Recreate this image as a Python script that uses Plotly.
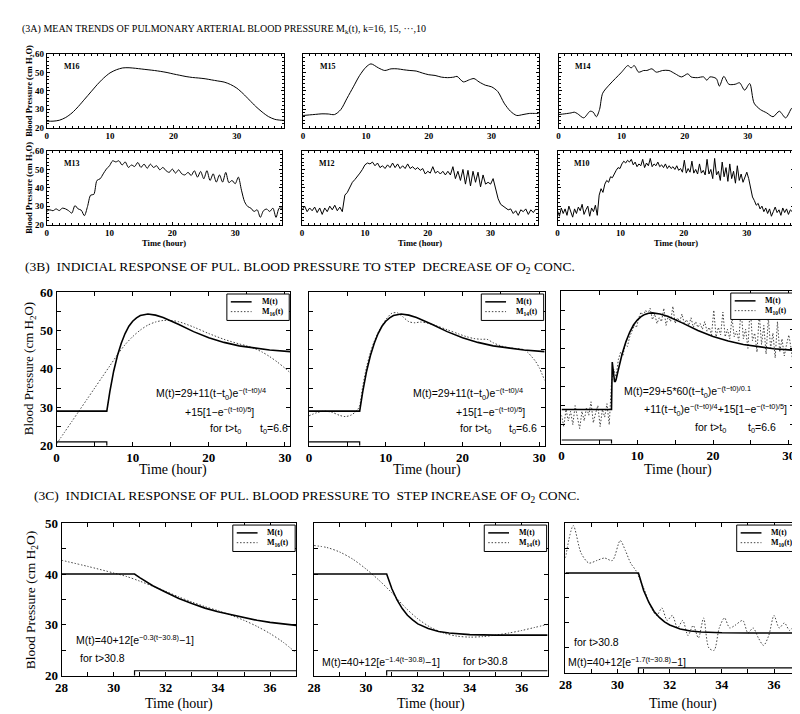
import numpy as np
import plotly.graph_objects as go

W, H = 800, 714
SERIF = "Liberation Serif"
SANS = "Liberation Sans"
NB = "\u00a0"


def px(x):
    return x / W


def py(y):
    return 1 - y / H


# ------------------------------------------------------------------ data
# (3A) mean trends, time in hours, pressure in cm H2O
T16A = [0, 1, 2, 3, 4, 5, 6, 7, 8, 9, 10, 11, 12, 13, 14, 15, 16, 17, 18, 19, 20,
        21, 22, 23, 24, 25, 26, 27, 28, 29, 30, 31, 32, 33, 34, 35, 36, 37, 37.5]
M16A = [23.5, 23.5, 24, 25.5, 28, 31.5, 35.5, 39.5, 43.5, 47, 49.8, 51.5, 52.5, 52.6,
        52.3, 51.9, 51.5, 51.1, 50.6, 50, 49.2, 48.5, 47.8, 47.3, 47, 46.6, 46, 45.4,
        44.8, 43.5, 41.5, 38.5, 35, 31.5, 28.5, 26, 24.5, 24, 24]

T15A = [0, 1, 2, 3, 4, 5, 6, 7, 8, 9, 10, 10.8, 12, 13, 14, 15, 16, 17, 18, 19, 20, 21,
        22, 23, 24, 24.5, 25.5, 26.5, 27.2, 28, 29, 30, 31, 32, 33, 34, 35, 36, 37, 37.5]
M15A = [26.6, 26.9, 27.2, 27.5, 27.4, 27.1, 29.8, 36, 42.2, 48.4, 52.9, 54.7, 52.5, 51.1,
        52, 52, 51.5, 51.1, 50.8, 49.7, 48.8, 48.4, 47.5, 47.2, 47.5, 47.9, 44.9, 46.1,
        46.7, 44.9, 43.1, 42.2, 39.6, 33.3, 28.9, 26.6, 27.1, 27.7, 27.7, 27.7]

T14A = [0, 1, 2, 2.5, 3, 4, 5, 5.5, 6, 6.5, 7, 8, 9, 10, 11, 11.5, 12, 12.7, 13.5, 14,
        14.8, 15.5, 16.5, 17.5, 18.5, 19.5, 20.5, 21, 22, 23, 23.5, 24, 25, 25.5, 26.2,
        27, 28, 28.7, 29.5, 30.3, 31, 32, 33, 34, 35, 36, 37, 37.5]
M14A = [27.1, 27.5, 28, 28.4, 27.6, 25.3, 28.9, 28.4, 25.9, 29.8, 38.7, 43.1, 46.7, 50.2,
        53.8, 52.5, 53.8, 50.2, 51.1, 51.1, 52, 50.2, 51.1, 51.1, 49.3, 47.6, 49.3, 47.6,
        47.2, 47.6, 45.8, 47.6, 46.7, 42.6, 47.9, 43.6, 43.6, 44.4, 40.4, 44, 33.3, 29.8,
        28, 25.9, 28.9, 25.3, 30.7, 31]

# noisy records on regular time bases
T13A = np.round(np.arange(76) * 0.5, 2)
M13A = [27.1, 28, 27.5, 28.5, 27.6, 28.9, 28.5, 27.5, 26.2, 30.3,
        28.5, 27.8, 24.8, 29.8, 36, 36.4, 44, 44.9, 47.6, 50.2,
        52, 54.7, 54.1, 54.7, 52.4, 54.1, 51.1, 52.4, 51.6, 53.8,
        51.1, 52.9, 50.6, 52.9, 51.1, 52, 49.8, 51.1, 49.3, 48.4,
        50.2, 48, 49.8, 47.6, 47, 48.4, 46.7, 49.3, 45.8, 48.9,
        44.9, 49.3, 44, 47.6, 43.1, 47, 43.1, 48.4, 42.8, 44,
        42.2, 45.8, 38.7, 32.4, 29.8, 28.9, 27.1, 28, 23.9, 27.5,
        28.4, 27.1, 28.9, 23.9, 28.9, 28.9]

T12A = np.round(np.arange(94) * 0.4, 2)
M12A = [28, 30, 27, 29, 27.5, 29.5, 26.5, 29, 25.5, 29,
        27, 30, 28, 30.5, 27.5, 29.5, 27, 36, 37.5, 40,
        43, 44.5, 46, 48, 50, 52.5, 53.5, 53, 54, 52,
        53.5, 51, 52, 50.5, 52.5, 51, 53.5, 51, 53, 50.5,
        52, 50.5, 53, 50.5, 51.5, 50, 51, 49.5, 50.5, 47.5,
        49, 48, 51.5, 48, 49, 47.5, 49, 47, 49, 47,
        51.5, 45, 49, 44, 50, 42, 49.5, 41, 49, 43,
        48.5, 40.5, 47, 42, 43, 42, 45, 40, 34, 31,
        30, 29.5, 28, 28.5, 26, 27.5, 25, 28, 27, 28.5,
        25.5, 28, 26.5, 28.5]

T10A = np.round(np.arange(126) * 0.3, 2)
M10A = [27.5, 24.5, 29, 26, 28.5, 25, 30, 27, 24, 28.5,
        26, 29.5, 27.5, 31, 25.5, 28, 30, 24.5, 29, 27,
        30.5, 25, 36, 39.5, 37.5, 42, 44, 43, 46, 45.5,
        48, 49.5, 51, 50.5, 53, 54.5, 53.5, 55, 54, 55.5,
        52.5, 54, 51.5, 53, 52, 55.5, 51, 53.5, 52, 56,
        51.5, 53, 52, 54, 51.5, 52.5, 51, 53, 50.5, 52,
        50.5, 51.5, 50, 52, 49.5, 50.5, 48.5, 55, 48, 50.5,
        48.5, 54.5, 48, 50, 47.5, 53, 48, 49.5, 47, 55.5,
        47.5, 50, 45, 56, 47, 49, 44, 54, 46, 51,
        43.5, 53, 45, 49, 42.5, 52, 44, 47.5, 43, 46,
        48.5, 45, 40, 35, 33, 30.5, 31.5, 28.5, 30, 27,
        29, 26, 28.5, 24.5, 27, 29.5, 26.5, 28, 25, 29,
        26.5, 28.5, 25.5, 28, 27, 28.5]

# (3B) step decrease of O2: model M(t) and measured means
TB_M = [0, 6.6, 7, 7.5, 8, 8.5, 9, 9.5, 10, 10.5, 11, 11.5, 12, 13, 14, 16, 18, 20, 22,
        24, 26, 28, 30.7]
MB = [29, 29, 34.1, 39.4, 43.5, 46.7, 49.2, 51.1, 52.4, 53.3, 53.9, 54.2, 54.3, 54.0,
      53.4, 51.6, 49.7, 48.1, 46.9, 46.0, 45.4, 44.9, 44.5]

TB3_M = [0, 6.6, 6.7, 6.8, 6.9, 7.0, 7.1, 7.2, 7.5, 8, 8.5, 9, 9.5, 10, 10.5, 11, 11.5,
         12, 13, 14, 16, 18, 20, 22, 24, 26, 28, 30.7]
MB3 = [29, 29, 41.4, 39.8, 37.4, 36.3, 36.3, 36.8, 39.4, 43.5, 46.7, 49.2, 51.1, 52.4,
       53.3, 53.9, 54.2, 54.3, 54.0, 53.4, 51.6, 49.7, 48.1, 46.9, 46.0, 45.4, 44.9, 44.5]

TB16 = [0, 1, 2, 3, 4, 5, 6, 7, 8, 9, 10, 11, 12, 13, 14, 15, 16, 18, 20, 22, 24, 25,
        26, 27, 28, 29, 30, 30.7]
MB16 = [20.5, 23.4, 26.3, 29.2, 32.1, 35, 37.9, 40.8, 43.7, 46.3, 48.4, 50.1, 51.4,
        52.2, 52.6, 52.6, 52.3, 50.9, 49.2, 47.7, 46.5, 46.0, 45.3, 44.4, 43.2, 41.8,
        40.2, 39.0]

TB14 = [0, 1, 2, 3, 4, 4.7, 5.5, 6.3, 6.6, 7, 7.5, 8, 8.5, 9, 10, 10.8, 11.5, 12.2, 13,
        13.8, 14.5, 15.5, 16.5, 18, 19.5, 20.5, 21.5, 22.5, 23.2, 24, 25, 26, 27, 28,
        28.5, 29, 29.5, 30, 30.7]
MB14 = [27.8, 28.6, 29.0, 28.7, 27.9, 27.6, 28.0, 29.3, 30.5, 35.5, 40.5, 44.3, 47.2,
        49.4, 52.8, 54.5, 54.6, 53.6, 52.3, 52.0, 52.2, 51.9, 51.3, 50.2, 49.1, 48.4,
        47.9, 47.7, 47.7, 46.8, 46.0, 45.5, 45.3, 45.0, 44.3, 43.2, 42.0, 40.3, 37.0]

# O2 step indicators (time, level)
STEP_B_T = [0, 6.6, 6.6]
STEP_B_Y = [21, 21, 20]
STEP_C_T = [30.8, 30.8, 37]
STEP_C_Y = [20, 21, 21]

# (3C) step increase of O2
TC1_M = [28, 30.8, 31, 31.5, 32, 32.5, 33, 33.5, 34, 34.5, 35, 35.5, 36, 36.5, 37]
MC1 = [40, 40, 39.3, 37.7, 36.4, 35.2, 34.2, 33.3, 32.6, 32.0, 31.4, 30.9, 30.5, 30.2, 29.9]
TC16 = [28, 29, 30, 30.5, 31, 31.5, 32, 32.5, 33, 33.5, 34, 34.5, 35, 35.5, 36, 36.5, 37]
MC16 = [42.7, 41.5, 40.2, 39.5, 38.6, 37.6, 36.6, 35.5, 34.5, 33.6, 32.8, 31.9, 30.9,
        29.7, 28.3, 26.6, 24.5]

TC2_M = [28, 30.8, 31, 31.2, 31.4, 31.6, 31.8, 32, 32.4, 32.8, 33.2, 33.6, 34, 35, 36, 37]
MC2 = [40, 40, 37.1, 34.9, 33.2, 31.9, 31.0, 30.2, 29.3, 28.7, 28.4, 28.2, 28.1, 28.0,
       28.0, 28.0]
TC14 = [28, 28.5, 29, 29.5, 30, 30.5, 31, 31.5, 32, 32.5, 33, 33.5, 34, 34.5, 35, 35.5,
        36, 36.5, 37]
MC14 = [45.6, 45.2, 44.3, 42.9, 41.0, 38.8, 36.3, 33.5, 31.2, 29.5, 28.4, 27.8, 27.6,
        27.7, 28.0, 28.4, 28.9, 29.5, 30.1]

TC3_M = [28, 30.8, 31, 31.2, 31.4, 31.6, 31.8, 32, 32.4, 32.8, 33.2, 33.6, 34, 35, 37]
MC3 = [40, 40, 36.5, 34.1, 32.3, 31.1, 30.2, 29.6, 28.8, 28.4, 28.2, 28.1, 28.05, 28.0, 28.0]
TC10 = [28, 28.3, 28.6, 28.9, 29.2, 29.5, 29.8, 30.1, 30.3, 30.5, 30.7, 31, 31.3, 31.5,
        31.7, 31.9, 32.1, 32.3, 32.5, 32.7, 32.9, 33.1, 33.3, 33.5, 33.7, 33.9, 34.1,
        34.3, 34.5, 34.8, 35, 35.2, 35.4, 35.6, 35.8, 36, 36.2, 36.4, 36.6, 36.8, 37]
MC10 = [43, 49.5, 44, 42, 42.5, 43, 42.5, 46.5, 44.5, 42, 40.5, 37, 33, 31.5, 33, 30.5,
        31.5, 29, 30.5, 27.5, 29.5, 27, 31, 25, 24.5, 29, 31, 29, 29.5, 30.5, 28, 29,
        27, 25.5, 27.5, 31.5, 29, 30, 28.5, 29.5, 30]

# ------------------------------------------------------------------ layout
A_STYLE = dict(xr=[0, 37.5], yr=[20, 60], x0=0, xd=10, yd=10, xm=1, ym=2, fs=9, tl=3, mtl=2)
B_STYLE = dict(xr=[0, 30.7], yr=[20, 60], x0=0, xd=10, yd=10, xm=5, ym=5, fs=13, tl=4, mtl=4)
C_STYLE = dict(xr=[28, 37], yr=[20, 50], x0=28, xd=2, yd=10, xm=1, ym=5, fs=13, tl=4, mtl=4)

panels = [
    dict(box=(32, 272, 40, 115), ylab=True, **A_STYLE),
    dict(box=(291, 529, 40, 115), ylab=False, **A_STYLE),
    dict(box=(549, 788, 40, 115), ylab=False, **A_STYLE),
    dict(box=(32, 270, 139, 214), ylab=True, **A_STYLE),
    dict(box=(290, 528, 139, 214), ylab=False, **A_STYLE),
    dict(box=(548, 787, 139, 214), ylab=False, **A_STYLE),
    dict(box=(42, 278, 283, 440), ylab=True, **B_STYLE),
    dict(box=(297, 535, 283, 440), ylab=False, **B_STYLE),
    dict(box=(552, 787, 282, 438), ylab=False, **B_STYLE),
    dict(box=(47, 284, 519, 675), ylab=True, **C_STYLE),
    dict(box=(302, 538, 519, 675), ylab=False, **C_STYLE),
    dict(box=(556, 793, 519, 672), ylab=False, **C_STYLE),
]

fig = go.Figure()
layout = dict(width=W, height=H, margin=dict(l=0, r=0, t=0, b=0),
              paper_bgcolor="white", plot_bgcolor="white", showlegend=False)

for i, p in enumerate(panels):
    n = i + 1
    sfx = "" if n == 1 else str(n)
    l, r, t, b = p["box"]
    tf = dict(family=SERIF, size=p["fs"], color="black", weight="bold")
    common = dict(showline=True, linecolor="black", linewidth=1, mirror="allticks",
                  ticks="inside", tickwidth=1, tickcolor="black", ticklen=p["tl"],
                  tickmode="linear", showgrid=False, zeroline=False, fixedrange=True,
                  tickfont=tf)
    layout["xaxis" + sfx] = dict(
        domain=[px(l), px(r)], range=p["xr"], anchor="y" + sfx, tick0=p["x0"],
        dtick=p["xd"], showticklabels=True,
        minor=dict(ticks="inside", dtick=p["xm"], tick0=p["x0"], ticklen=p["mtl"],
                   tickcolor="black", tickwidth=1, showgrid=False),
        **common)
    layout["yaxis" + sfx] = dict(
        domain=[py(b), py(t)], range=p["yr"], anchor="x" + sfx, tick0=20,
        dtick=p["yd"], showticklabels=p["ylab"],
        minor=dict(ticks="inside", dtick=p["ym"], tick0=20, ticklen=p["mtl"],
                   tickcolor="black", tickwidth=1, showgrid=False),
        **common)


def ax(n):
    return ("x", "y") if n == 1 else ("x%d" % n, "y%d" % n)


DOT = "1.5px,1.8px"


def add_line(n, x, y, dotted=False, width=1.0, shape="linear", color="black"):
    xa, ya = ax(n)
    fig.add_trace(go.Scatter(
        x=x, y=y, mode="lines", xaxis=xa, yaxis=ya, showlegend=False,
        line=dict(color="#444444" if dotted else color, width=width,
                  dash=DOT if dotted else "solid", shape=shape, smoothing=0.8),
        hoverinfo="skip"))


# 3A
add_line(1, T16A, M16A, shape="spline")
add_line(2, T15A, M15A, shape="spline")
add_line(3, T14A, M14A, shape="spline")
add_line(4, T13A, M13A, shape="spline")
add_line(5, T12A, M12A)
add_line(6, T10A, M10A)
# 3B
add_line(7, TB16, MB16, dotted=True, shape="spline")
add_line(7, TB_M, MB, width=1.6)
add_line(7, STEP_B_T, STEP_B_Y, width=1.2)
add_line(8, TB14, MB14, dotted=True, shape="spline")
add_line(8, TB_M, MB, width=1.6)
add_line(8, STEP_B_T, STEP_B_Y, width=1.2)
add_line(9, T10A, M10A, dotted=True)
add_line(9, TB3_M, MB3, width=1.6)
add_line(9, STEP_B_T, STEP_B_Y, width=1.2)
# 3C
add_line(10, TC16, MC16, dotted=True, shape="spline")
add_line(10, TC1_M, MC1, width=1.6)
add_line(10, STEP_C_T, STEP_C_Y, width=1.2)
add_line(11, TC14, MC14, dotted=True, shape="spline")
add_line(11, TC2_M, MC2, width=1.6)
add_line(11, STEP_C_T, STEP_C_Y, width=1.2)
add_line(12, TC10, MC10, dotted=True, shape="spline")
add_line(12, TC3_M, MC3, width=1.6)
add_line(12, STEP_C_T, STEP_C_Y, width=1.2)

ann = []
shapes = []


def text(x, y, s, size, family=SERIF, bold=False, xanchor="left", angle=0):
    ann.append(dict(x=px(x), y=py(y), xref="paper", yref="paper", text=s, showarrow=False,
                    xanchor=xanchor, yanchor="middle", textangle=angle,
                    font=dict(family=family, size=size, color="black",
                              weight="bold" if bold else "normal")))


# titles
text(5, 15, "(3A) MEAN TRENDS OF PULMONARY ARTERIAL BLOOD PRESSURE M<sub>k</sub>(t), k=16, 15, ···,10", 10)
text(8, 258, "(3B)" + NB * 2 + "INDICIAL RESPONSE OF PUL. BLOOD PRESSURE TO STEP" + NB * 2 +
     "DECREASE OF O<sub>2</sub> CONC.", 13.5)
text(17, 492, "(3C)" + NB * 2 + "INDICIAL RESPONSE OF PUL. BLOOD PRESSURE TO" + NB * 2 +
     "STEP INCREASE OF O<sub>2</sub> CONC.", 13.5)

# axis titles
BP = "Blood Pressure (cm H<sub>2</sub>O)"
text(15, 77.5, BP, 8.5, bold=True, xanchor="center", angle=-90)
text(15, 176.5, BP, 8.5, bold=True, xanchor="center", angle=-90)
text(15, 361, BP, 13, xanchor="center", angle=-90)
text(17, 597, BP, 13.5, xanchor="center", angle=-90)
for i in (3, 4, 5):
    l, r, t, b = panels[i]["box"]
    text((l + r) / 2, 233, "Time (hour)", 8.5, bold=True, xanchor="center")
for i in (6, 7, 8):
    l, r, t, b = panels[i]["box"]
    text((l + r) / 2, 465, "Time (hour)", 14, xanchor="center")
for i in (9, 10, 11):
    l, r, t, b = panels[i]["box"]
    text((l + r) / 2, 704, "Time (hour)", 14, xanchor="center")

# panel labels in 3A
for i, lab in enumerate(["M16", "M15", "M14", "M13", "M12", "M10"]):
    l, r, t, b = panels[i]["box"]
    text(l + 15, t + 13, lab, 8, bold=True)

# formulas
F = 10.5
text(140, 387, "M(t)=29+11(t−t<sub>0</sub>)e<sup>−(t−t0)/4</sup>", F, SANS)
text(170, 405, "+15[1−e<sup>−(t−t0)/5</sup>]", F, SANS)
text(195, 423, "for t>t<sub>0</sub>", F, SANS)
text(245, 423, "t<sub>0</sub>=6.6", F, SANS)
text(400, 387, "M(t)=29+11(t−t<sub>0</sub>)e<sup>−(t−t0)/4</sup>", F, SANS)
text(443, 405, "+15[1−e<sup>−(t−t0)/5</sup>]", F, SANS)
text(447, 423, "for t>t<sub>0</sub>", F, SANS)
text(497, 423, "t<sub>0</sub>=6.6", F, SANS)
text(613, 385, "M(t)=29+5*60(t−t<sub>0</sub>)e<sup>−(t−t0)/0.1</sup>", F, SANS)
text(633, 403, "+11(t−t<sub>0</sub>)e<sup>−(t−t0)/4</sup>+15[1−e<sup>−(t−t0)/5</sup>]", F, SANS)
text(685, 422, "for t>t<sub>0</sub>", F, SANS)
text(738, 422, "t<sub>0</sub>=6.6", F, SANS)
text(60, 638, "M(t)=40+12[e<sup>−0.3(t−30.8)</sup>−1]", F, SANS)
text(64, 657, "for t>30.8", F, SANS)
text(308, 660, "M(t)=40+12[e<sup>−1.4(t−30.8)</sup>−1]", F, SANS)
text(450, 660, "for t>30.8", F, SANS)
text(563, 640, "for t>30.8", F, SANS)
text(557, 660, "M(t)=40+12[e<sup>−1.7(t−30.8)</sup>−1]", F, SANS)

# legend boxes
for i, k in zip(range(6, 12), ["16", "14", "10", "16", "14", "10"]):
    l, r, t, b = panels[i]["box"]
    bx1, by0 = r - 1, t + 2
    bx0, by1 = bx1 - 63, by0 + 27
    shapes.append(dict(type="rect", xref="paper", yref="paper", x0=px(bx0), x1=px(bx1),
                       y0=py(by1), y1=py(by0), line=dict(color="black", width=1),
                       fillcolor="white", layer="above"))
    shapes.append(dict(type="line", xref="paper", yref="paper", x0=px(bx0 + 4),
                       x1=px(bx0 + 25), y0=py(by0 + 8), y1=py(by0 + 8),
                       line=dict(color="black", width=1.5), layer="above"))
    shapes.append(dict(type="line", xref="paper", yref="paper", x0=px(bx0 + 4),
                       x1=px(bx0 + 25), y0=py(by0 + 18), y1=py(by0 + 18),
                       line=dict(color="#444444", width=1, dash=DOT), layer="above"))
    text(bx0 + 33, by0 + 8, "M(t)", 8, bold=True)
    text(bx0 + 33, by0 + 18, "M<sub>" + k + "</sub>(t)", 8, bold=True)

layout["annotations"] = ann
layout["shapes"] = shapes
fig.update_layout(**layout)
fig.write_html("out.html")
